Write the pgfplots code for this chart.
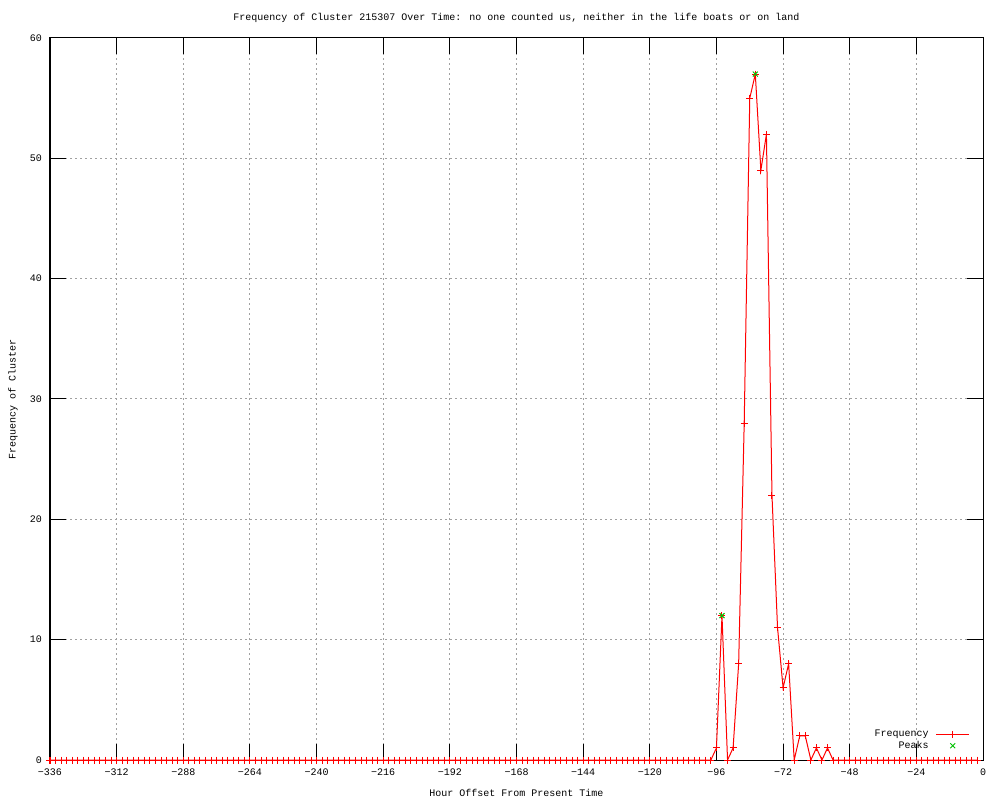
\documentclass[border=0pt]{standalone}
\usepackage{fontspec}
\setmainfont{Liberation Mono}
\usepackage{pgfplots}
\pgfplotsset{compat=1.18}
\definecolor{gpred}{RGB}{255,0,0}
\definecolor{gpgreen}{RGB}{0,192,0}
\definecolor{gpgrid}{RGB}{160,160,160}
\pgfplotsset{gplegend/.style={legend image code/.code={\draw[mark repeat=2,mark phase=2,##1] plot coordinates {(0pt,0pt) (16.5pt,0pt) (33pt,0pt)};}}}
\begin{document}
\begin{tikzpicture}
\path[use as bounding box] (-50pt,-40pt) rectangle (950pt,760pt);
\begin{axis}[
 at={(0pt,0pt)}, anchor=south west,
 scale only axis, width=933pt, height=722pt,
 xmin=-336, xmax=0, ymin=0, ymax=60,
 xtick={-336,-312,-288,-264,-240,-216,-192,-168,-144,-120,-96,-72,-48,-24,0},
 xticklabels={−336,−312,−288,−264,−240,−216,−192,−168,−144,−120,−96,−72,−48,−24,0},
 ytick={0,10,20,30,40,50,60},
 yticklabels={0,10,20,30,40,50,60},
 font=\fontsize{10}{12}\selectfont,
 tick align=inside, major tick length=16pt,
 tick style={black, line width=1pt},
 grid=major,
 major grid style={gpgrid, dash pattern=on 2pt off 3pt, line width=1pt},
 axis line style={black, line width=1pt},
 xticklabel style={anchor=north, inner sep=0pt, yshift=-9pt},
 yticklabel style={anchor=east, inner sep=0pt, xshift=-8pt},
 every axis title/.style={at={(axis description cs:0.5,1)}, yshift=20pt, anchor=center},
 every axis x label/.style={at={(axis description cs:0.5,0)}, yshift=-33pt, anchor=center},
 every axis y label/.style={at={(axis description cs:0,0.5)}, xshift=-37pt, rotate=90, anchor=center},
 title={Frequency of Cluster 215307 Over Time: no one counted us, neither in the life boats or on land},
 xlabel={Hour Offset From Present Time},
 ylabel={Frequency of Cluster},
 legend plot pos=right,
 legend cell align=right,
 legend style={draw=none, fill=none, at={(0.986,0.012)}, anchor=south east,
   inner sep=0pt, row sep=1pt, font=\fontsize{10}{12}\selectfont,
   nodes={inner sep=1pt}, /tikz/every odd column/.append style={column sep=6pt}},
]
\addplot[gpred, line width=1pt, mark=+, mark size=3.5pt, mark options={solid, gpred}, gplegend]
coordinates {
(-336,0)(-334,0)(-332,0)(-330,0)(-328,0)(-326,0)(-324,0)(-322,0)(-320,0)(-318,0)
(-316,0)(-314,0)(-312,0)(-310,0)(-308,0)(-306,0)(-304,0)(-302,0)(-300,0)(-298,0)
(-296,0)(-294,0)(-292,0)(-290,0)(-288,0)(-286,0)(-284,0)(-282,0)(-280,0)(-278,0)
(-276,0)(-274,0)(-272,0)(-270,0)(-268,0)(-266,0)(-264,0)(-262,0)(-260,0)(-258,0)
(-256,0)(-254,0)(-252,0)(-250,0)(-248,0)(-246,0)(-244,0)(-242,0)(-240,0)(-238,0)
(-236,0)(-234,0)(-232,0)(-230,0)(-228,0)(-226,0)(-224,0)(-222,0)(-220,0)(-218,0)
(-216,0)(-214,0)(-212,0)(-210,0)(-208,0)(-206,0)(-204,0)(-202,0)(-200,0)(-198,0)
(-196,0)(-194,0)(-192,0)(-190,0)(-188,0)(-186,0)(-184,0)(-182,0)(-180,0)(-178,0)
(-176,0)(-174,0)(-172,0)(-170,0)(-168,0)(-166,0)(-164,0)(-162,0)(-160,0)(-158,0)
(-156,0)(-154,0)(-152,0)(-150,0)(-148,0)(-146,0)(-144,0)(-142,0)(-140,0)(-138,0)
(-136,0)(-134,0)(-132,0)(-130,0)(-128,0)(-126,0)(-124,0)(-122,0)(-120,0)(-118,0)
(-116,0)(-114,0)(-112,0)(-110,0)(-108,0)(-106,0)(-104,0)(-102,0)(-100,0)(-98,0)
(-96,1)(-94,12)(-92,0)(-90,1)(-88,8)(-86,28)(-84,55)(-82,57)(-80,49)(-78,52)
(-76,22)(-74,11)(-72,6)(-70,8)(-68,0)(-66,2)(-64,2)(-62,0)(-60,1)(-58,0)
(-56,1)(-54,0)(-52,0)(-50,0)(-48,0)(-46,0)(-44,0)(-42,0)(-40,0)(-38,0)
(-36,0)(-34,0)(-32,0)(-30,0)(-28,0)(-26,0)(-24,0)(-22,0)(-20,0)(-18,0)
(-16,0)(-14,0)(-12,0)(-10,0)(-8,0)(-6,0)(-4,0)(-2,0)
};
\addlegendentry{Frequency}
\addplot[only marks, gpgreen, line width=1pt, mark=x, mark size=3.5pt, gplegend]
coordinates {(-94,12)(-82,57)};
\addlegendentry{Peaks}
\end{axis}
\end{tikzpicture}
\end{document}
